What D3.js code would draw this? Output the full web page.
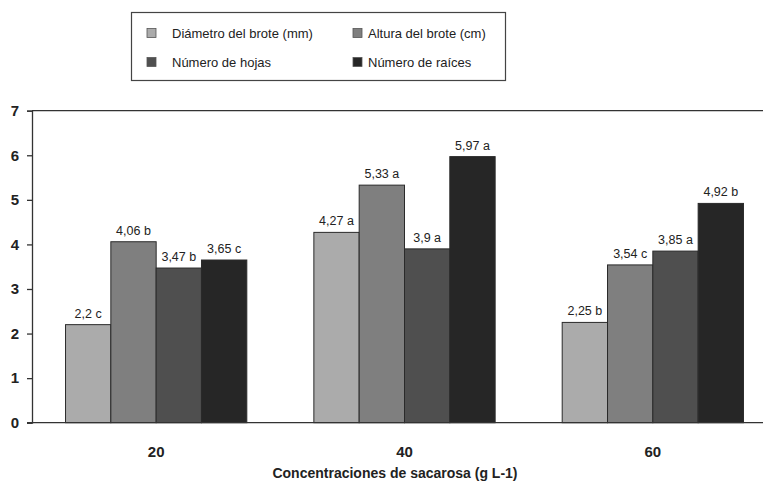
<!DOCTYPE html>
<html>
<head>
<meta charset="utf-8">
<script src="https://cdn.jsdelivr.net/npm/d3@7"></script>
<style>
  body { margin: 0; background: #fff; }
  svg { display: block; font-family: "Liberation Sans", Arial, sans-serif; }
</style>
</head>
<body>
<svg id="chart" width="763" height="487"></svg>
<script>
// data
var categories = ["20", "40", "60"];
var seriesNames = ["Diámetro del brote (mm)", "Altura del brote (cm)", "Número de hojas", "Número de raíces"];
var diametro = [2.2, 4.27, 2.25];
var altura = [4.06, 5.33, 3.54];
var hojas = [3.47, 3.9, 3.85];
var raices = [3.65, 5.97, 4.92];
var letters = [
    ["c", "a", "b"],
    ["b", "a", "c"],
    ["b", "a", "a"],
    ["c", "a", "b"]
];
var yTicks = [0, 1, 2, 3, 4, 5, 6, 7];
var colors = ["#ababab", "#7f7f7f", "#4f4f4f", "#262626"];

var values = [diametro, altura, hojas, raices];
var fmt = d3.format(".2~f");

var svg = d3.select("#chart");

// plot runs past the right edge, like the cropped original
var plotLeft = 32, plotRight = 777, plotTop = 110.7, plotBottom = 422.7;

var x0 = d3.scaleBand()
    .domain(categories)
    .range([plotLeft, plotRight])
    .paddingInner(0.27)
    .paddingOuter(0.135);

var x1 = d3.scaleBand()
    .domain(d3.range(seriesNames.length))
    .range([0, x0.bandwidth()]);

var y = d3.scaleLinear()
    .domain([0, 7])
    .range([plotBottom, plotTop]);

// frame top line
svg.append("line")
    .attr("x1", plotLeft).attr("x2", 763)
    .attr("y1", y(7)).attr("y2", y(7))
    .attr("stroke", "#333").attr("stroke-width", 1.3);

// y axis
var yAxis = svg.append("g")
    .attr("transform", "translate(" + plotLeft + ",0)")
    .call(d3.axisLeft(y).tickValues(yTicks).tickSize(5).tickPadding(8).tickFormat(d3.format("d")));
yAxis.select(".domain").attr("stroke", "#333").attr("stroke-width", 1.3);
yAxis.selectAll(".tick line").attr("stroke", "#333").attr("stroke-width", 1.3);
yAxis.selectAll(".tick text")
    .attr("fill", "#222")
    .style("font-size", "15px")
    .style("font-weight", "bold")
    .style("font-family", "'Liberation Sans', Arial, sans-serif");

// bars
var groups = svg.selectAll("g.cat")
    .data(categories)
    .enter()
    .append("g")
    .attr("class", "cat")
    .attr("transform", d => "translate(" + x0(d) + ",0)");

var bars = groups.selectAll("g.bar")
    .data((d, i) => values.map((s, k) => ({k: k, v: s[i], l: letters[k][i]})))
    .enter()
    .append("g")
    .attr("class", "bar");

bars.append("rect")
    .attr("x", d => x1(d.k))
    .attr("y", d => y(d.v))
    .attr("width", x1.bandwidth())
    .attr("height", d => y(0) - y(d.v))
    .attr("fill", d => colors[d.k])
    .attr("stroke", "#2a2a2a")
    .attr("stroke-width", 1);

bars.append("text")
    .attr("x", d => x1(d.k) + x1.bandwidth() / 2)
    .attr("y", d => y(d.v) - 7)
    .attr("text-anchor", "middle")
    .attr("fill", "#222")
    .style("font-size", "12.5px")
    .text(d => fmt(d.v).replace(".", ",") + " " + d.l);

// x axis baseline
svg.append("line")
    .attr("x1", plotLeft - 5).attr("x2", 763)
    .attr("y1", y(0)).attr("y2", y(0))
    .attr("stroke", "#333").attr("stroke-width", 1.3);

// category labels
svg.selectAll("text.catlabel")
    .data(categories)
    .enter()
    .append("text")
    .attr("class", "catlabel")
    .attr("x", d => x0(d) + x0.bandwidth() / 2)
    .attr("y", 457)
    .attr("text-anchor", "middle")
    .attr("fill", "#222")
    .style("font-size", "15px")
    .style("font-weight", "bold")
    .text(d => d);

svg.append("text")
    .attr("x", 395)
    .attr("y", 478)
    .attr("text-anchor", "middle")
    .attr("fill", "#222")
    .style("font-size", "14px")
    .style("font-weight", "bold")
    .text("Concentraciones de sacarosa (g L-1)");

// legend
var legend = svg.append("g");
legend.append("rect")
    .attr("x", 131.5).attr("y", 12.5)
    .attr("width", 374).attr("height", 68)
    .attr("fill", "none")
    .attr("stroke", "#444").attr("stroke-width", 1.2);

var legX = [147, 353], legY = [33, 62];
var items = legend.selectAll("g.item")
    .data(seriesNames)
    .enter()
    .append("g")
    .attr("class", "item")
    .attr("transform", (d, i) => "translate(" + legX[i % 2] + "," + legY[Math.floor(i / 2)] + ")");

items.append("rect")
    .attr("x", 0).attr("y", -4.5)
    .attr("width", 9).attr("height", 9)
    .attr("fill", (d, i) => colors[i])
    .attr("stroke", "#555").attr("stroke-width", 0.8);

items.append("text")
    .attr("x", (d, i) => i % 2 == 0 ? 25 : 15)
    .attr("y", 4.5)
    .attr("fill", "#222")
    .style("font-size", "13px")
    .text(d => d);
</script>
</body>
</html>
